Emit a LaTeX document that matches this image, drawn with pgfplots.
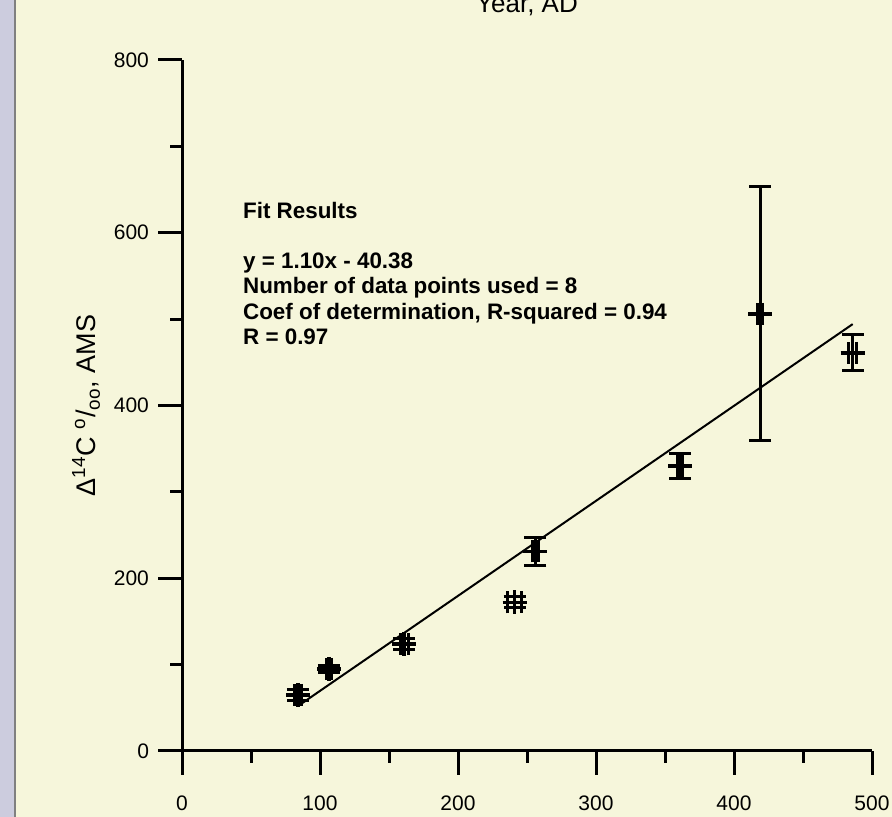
\documentclass[border=0pt]{standalone}
\usepackage{fontspec}
\setmainfont{Liberation Sans}
\usepackage{pgfplots}
\pgfplotsset{compat=1.18}
\definecolor{cream}{RGB}{246,246,219}
\definecolor{strip}{RGB}{204,204,222}

\begin{document}
\begin{tikzpicture}
\path[use as bounding box, fill=cream] (-91pt,-33pt) rectangle (355pt,375.5pt);
\fill[strip] (-91pt,-33pt) rectangle (-83.5pt,375.5pt);
\draw[gray, line width=0.6pt] (-83.5pt,-33pt) -- (-83.5pt,375.5pt);
\clip (-91pt,-33pt) rectangle (355pt,375.5pt);
\begin{axis}[
    at={(0,0)}, anchor=south west,
    scale only axis, width=345pt, height=345.5pt,
    xmin=0, xmax=500, ymin=0, ymax=800,
    axis x line=bottom, axis y line=left,
    axis line style={-, line width=1.5pt},
    xtick={0,100,...,500}, ytick={0,200,...,800},
    minor x tick num=1, minor y tick num=1,
    tick align=outside,
    major tick length=12pt, minor tick length=6pt,
    every tick/.style={black, line width=1.5pt},
    /pgf/number format/assume math mode=true,
    ticklabel style={font=\fontsize{10.5}{12}\selectfont},
    xticklabel style={yshift=-7pt},
    yticklabel style={xshift=-1pt},
    xlabel={Year, AD},
    xlabel style={at={(axis description cs:0.5,1)}, anchor=base, yshift=23.5pt,
                  font=\fontsize{13}{15}\selectfont},
    ylabel={Δ\textsuperscript{14}C \textsuperscript{o}/\textsubscript{oo}, AMS},
    ylabel style={at={(axis description cs:0,0.5)}, anchor=center, yshift=48pt,
                  font=\fontsize{13.5}{15}\selectfont},
]
% regression line
\addplot[line width=1pt, no marks] coordinates {(84,52.0) (486,494.2)};
% measurements
\addplot[only marks, mark=+, mark size=6pt, line width=1.5pt,
    mark options={line width=1.7pt},
    error bars/.cd, x dir=both, x explicit, y dir=both, y explicit,
    error bar style={line width=1.5pt},
    error mark options={rotate=90, line width=1.5pt, mark size=5.5pt}]
  table[x=x, y=y, x error=ex, y error=ey] {
    x     y    ex   ey
    84    65   2.7  6
    106.5 95   1.5  4
    161   124  3    6
    241   172  5    6.4
    256   231  2    16
    361   330  2    14
    419   506  2    147
    486   461  3    21
};
\node[anchor=north west, inner sep=0pt, align=left,
      font=\bfseries\fontsize{11.2}{12.6}\selectfont] at (axis cs:44,636)
  {Fit Results\\[12.6pt]
   y = 1.10x - 40.38\\
   Number of data points used = 8\\
   Coef of determination, R-squared = 0.94\\
   R = 0.97};
\end{axis}
\end{tikzpicture}
\end{document}
